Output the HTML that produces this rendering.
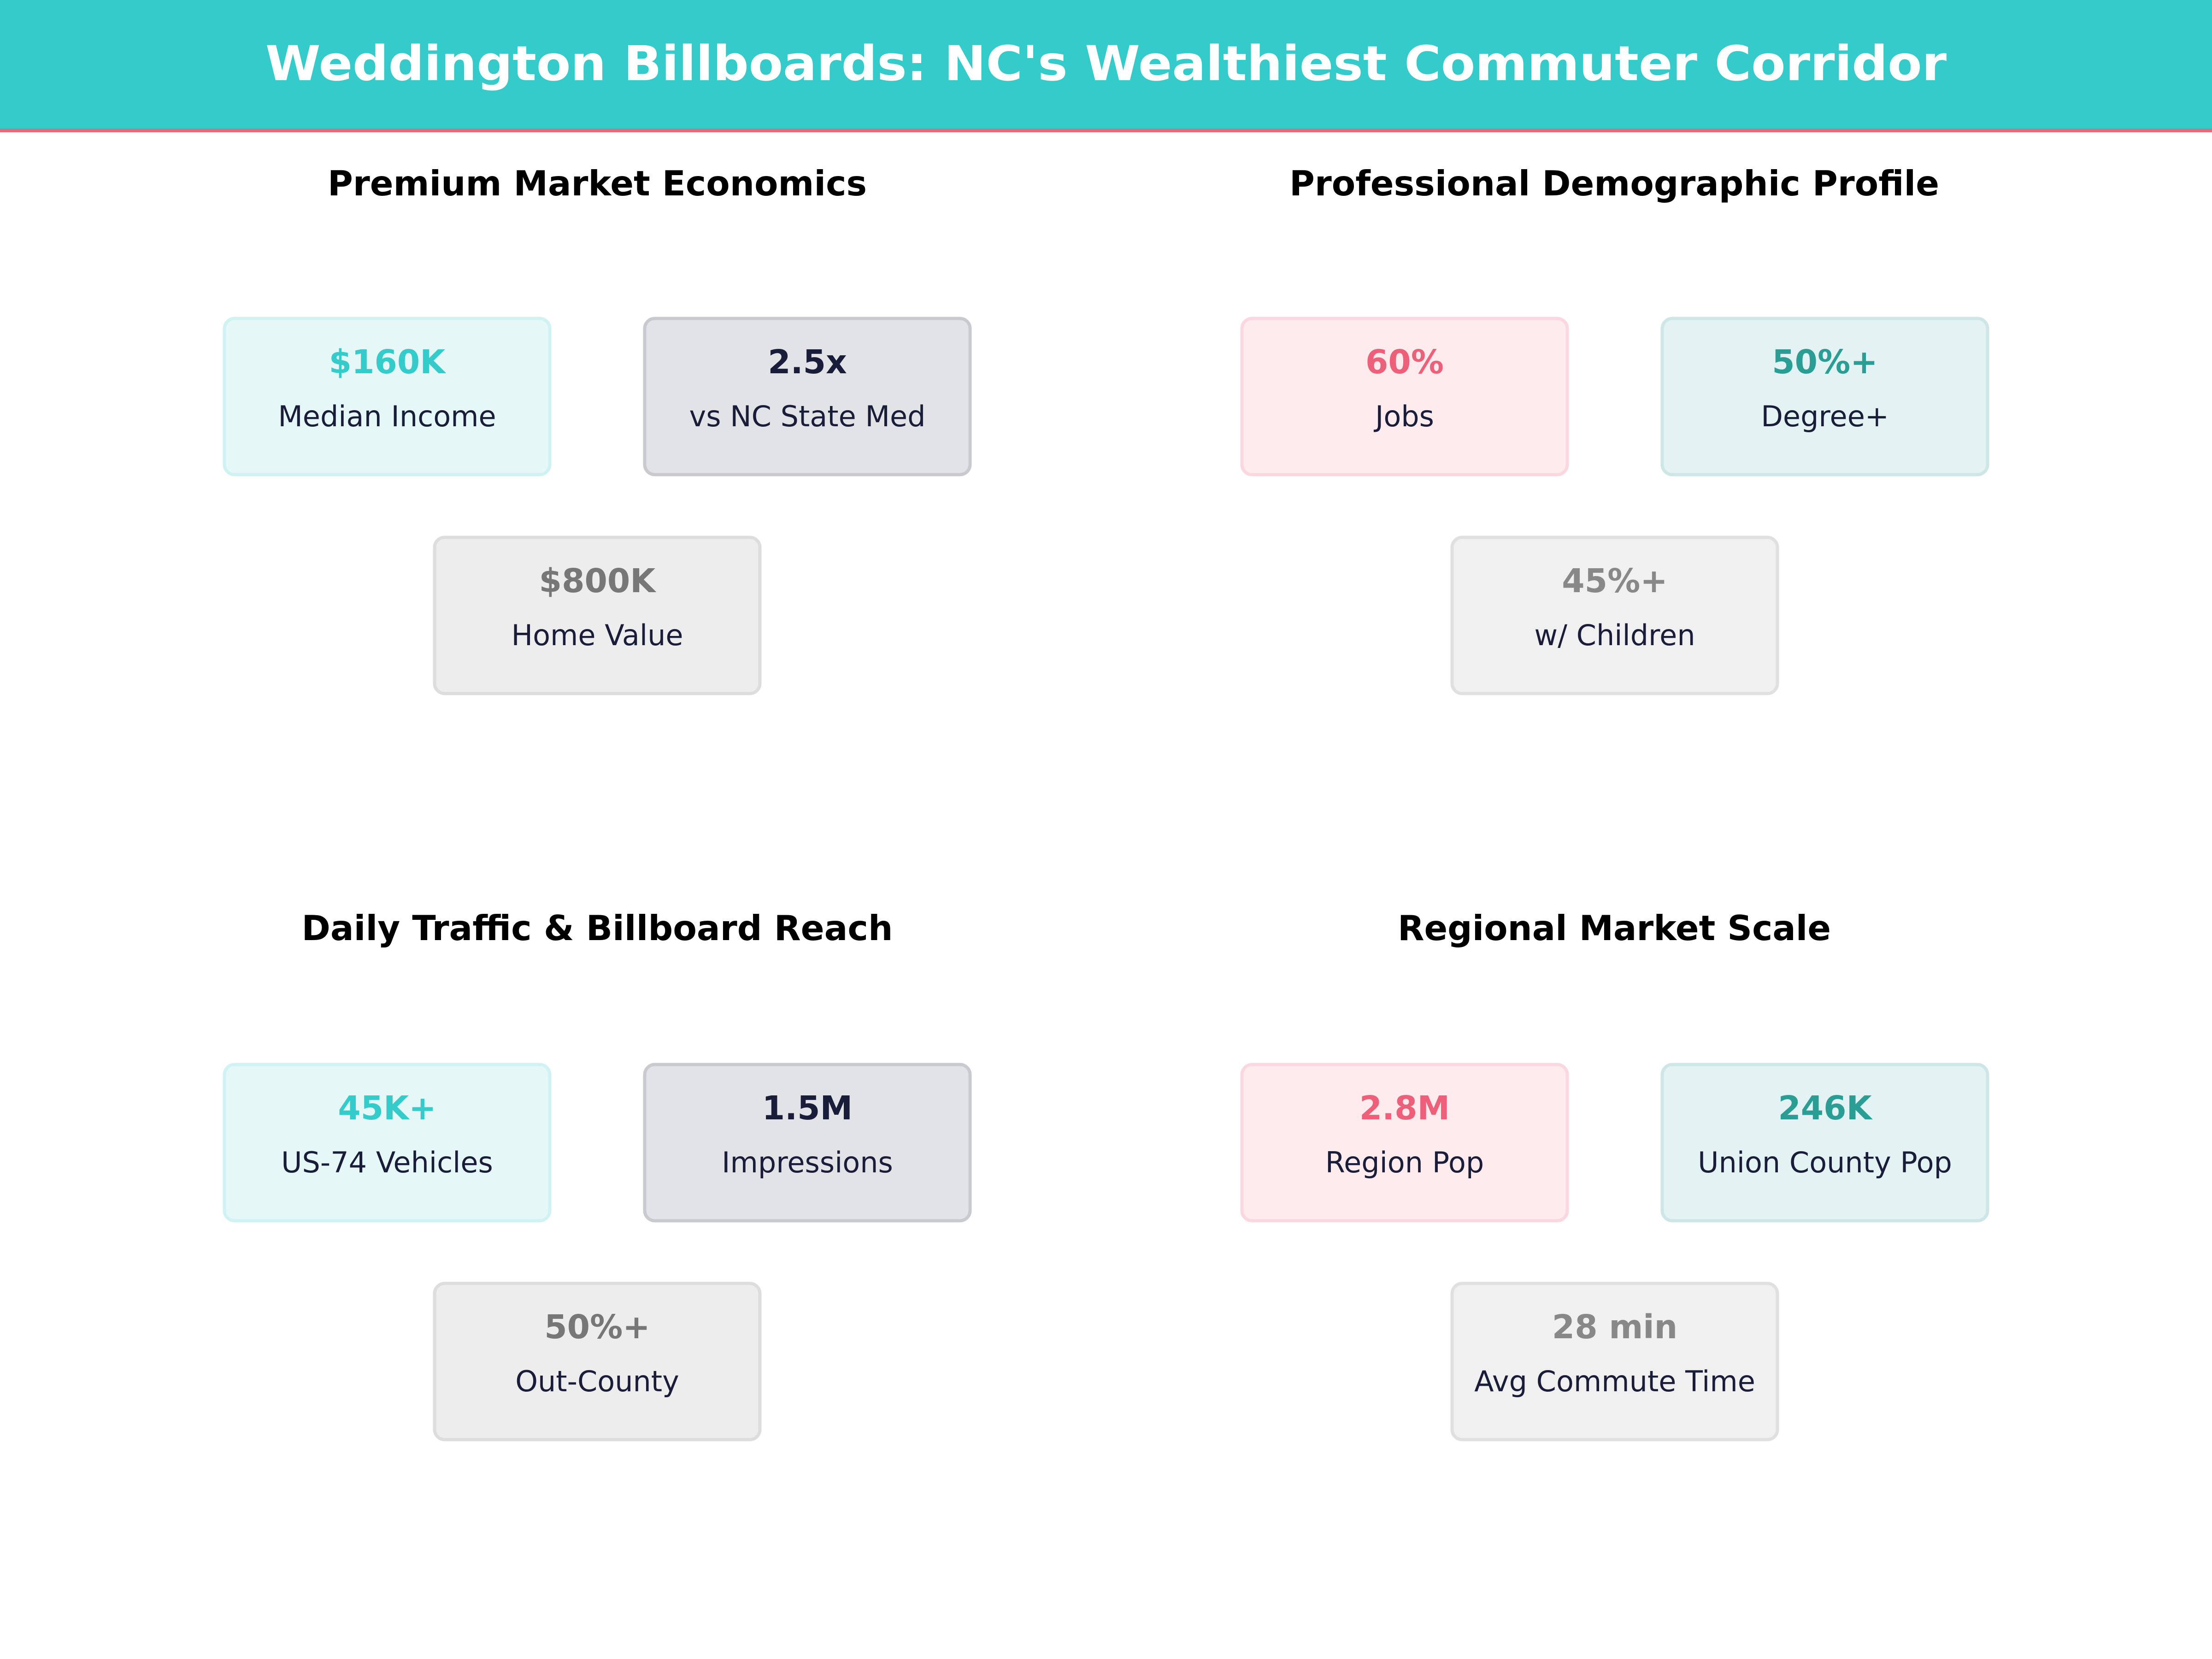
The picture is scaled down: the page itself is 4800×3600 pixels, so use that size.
<!DOCTYPE html>
<html><head><meta charset="utf-8"><style>
html,body{margin:0;padding:0;background:#fff}
svg{display:block}
text{font-family:"DejaVu Sans","Liberation Sans",sans-serif}
</style></head><body>
<svg width="4800" height="3600" viewBox="0 0 4800 3600" xmlns="http://www.w3.org/2000/svg">
<rect x="0" y="0" width="4800" height="279" fill="#36CBCB"/>
<rect x="0" y="279" width="4800" height="8" fill="#EE6479"/>
<text x="2400" y="174" text-anchor="middle" font-size="104" font-weight="bold" fill="#fff" textLength="3648" lengthAdjust="spacingAndGlyphs">Weddington Billboards: NC's Wealthiest Commuter Corridor</text>

<g font-weight="bold" font-size="75" fill="#000" text-anchor="middle">
<text x="1296" y="424" textLength="1170" lengthAdjust="spacingAndGlyphs">Premium Market Economics</text>
<text x="3503" y="424" textLength="1410" lengthAdjust="spacingAndGlyphs">Professional Demographic Profile</text>
<text x="1296" y="2040" textLength="1283" lengthAdjust="spacingAndGlyphs">Daily Traffic &amp; Billboard Reach</text>
<text x="3503" y="2040" textLength="940" lengthAdjust="spacingAndGlyphs">Regional Market Scale</text>
</g>

<g stroke-width="7">
<rect x="487" y="691" width="706" height="339" rx="22" fill="#E6F7F7" stroke="#D0F2F2"/>
<rect x="1399" y="691" width="706" height="339" rx="22" fill="#E2E3E7" stroke="#C9C9D0"/>
<rect x="943" y="1166" width="706" height="339" rx="22" fill="#EDEDED" stroke="#DDDDDD"/>
<rect x="2695" y="691" width="706" height="339" rx="22" fill="#FDEBEE" stroke="#FBD8DF"/>
<rect x="3607" y="691" width="706" height="339" rx="22" fill="#E3F2F2" stroke="#CEE6E6"/>
<rect x="3151" y="1166" width="706" height="339" rx="22" fill="#F0F0F0" stroke="#E0E0E0"/>
<rect x="487" y="2310" width="706" height="339" rx="22" fill="#E6F7F7" stroke="#D0F2F2"/>
<rect x="1399" y="2310" width="706" height="339" rx="22" fill="#E2E3E7" stroke="#C9C9D0"/>
<rect x="943" y="2785" width="706" height="339" rx="22" fill="#EDEDED" stroke="#DDDDDD"/>
<rect x="2695" y="2310" width="706" height="339" rx="22" fill="#FDEBEE" stroke="#FBD8DF"/>
<rect x="3607" y="2310" width="706" height="339" rx="22" fill="#E3F2F2" stroke="#CEE6E6"/>
<rect x="3151" y="2785" width="706" height="339" rx="22" fill="#F0F0F0" stroke="#E0E0E0"/>
</g>

<g text-anchor="middle" font-weight="bold" font-size="71">
<text x="840" y="810" fill="#36CBCB">$160K</text>
<text x="1752" y="810" fill="#1A1D3A">2.5x</text>
<text x="1296" y="1285" fill="#777777">$800K</text>
<text x="3048" y="810" fill="#EE6079">60%</text>
<text x="3960" y="810" fill="#2A9D95">50%+</text>
<text x="3504" y="1285" fill="#888888">45%+</text>
<text x="840" y="2429" fill="#36CBCB">45K+</text>
<text x="1752" y="2429" fill="#1A1D3A">1.5M</text>
<text x="1296" y="2904" fill="#777777">50%+</text>
<text x="3048" y="2429" fill="#EE6079">2.8M</text>
<text x="3960" y="2429" fill="#2A9D95">246K</text>
<text x="3504" y="2904" fill="#888888">28 min</text>
</g>
<g text-anchor="middle" font-size="62" fill="#1A1D3A">
<text x="840" y="925">Median Income</text>
<text x="1752" y="925">vs NC State Med</text>
<text x="1296" y="1400">Home Value</text>
<text x="3048" y="925">Jobs</text>
<text x="3960" y="925">Degree+</text>
<text x="3504" y="1400">w/ Children</text>
<text x="840" y="2544">US-74 Vehicles</text>
<text x="1752" y="2544">Impressions</text>
<text x="1296" y="3019">Out-County</text>
<text x="3048" y="2544">Region Pop</text>
<text x="3960" y="2544">Union County Pop</text>
<text x="3504" y="3019">Avg Commute Time</text>
</g>
</svg>
</body></html>
